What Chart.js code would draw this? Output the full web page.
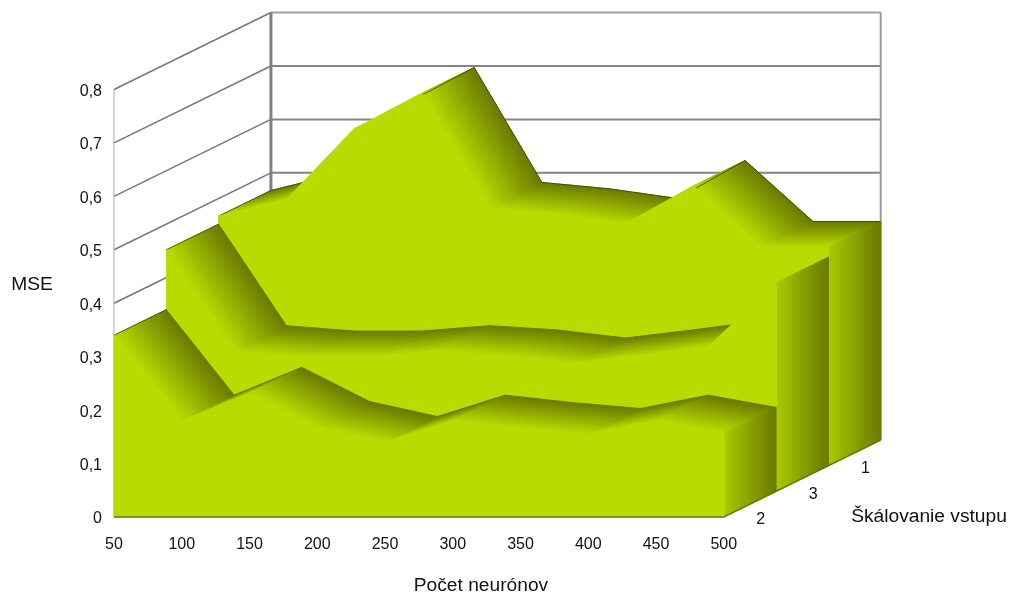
<!DOCTYPE html>
<html>
<head>
<meta charset="utf-8">
<title>MSE</title>
<script src="https://cdn.jsdelivr.net/npm/chart.js@4"></script>
<style>
    html, body { margin: 0; padding: 0; background: #fff; }
    canvas { display: block; }
</style>
</head>
<body>
<canvas id="mseChart" width="1016" height="599"></canvas>
<script>
const neurons = [50, 100, 150, 200, 250, 300, 350, 400, 450, 500];
const mseTicks = [0, 0.1, 0.2, 0.3, 0.4, 0.5, 0.6, 0.7, 0.8];
const scalingLabels = ['2', '3', '1']; // front to back
const mseScaling2 = [0.34, 0.18, 0.232, 0.168, 0.14, 0.18, 0.166, 0.155, 0.18, 0.157];
const mseScaling3 = [0.452, 0.262, 0.252, 0.252, 0.262, 0.254, 0.239, 0.254, 0.271, 0.39];
const mseScaling1 = [0.467, 0.498, 0.63, 0.697, 0.482, 0.47, 0.452, 0.523, 0.409, 0.409];
const allSeries = [mseScaling2, mseScaling3, mseScaling1];

const BRIGHT = '#b8dc00';
const SIDE = '#a8ca00';
const DARK = '#6a7a00';
const OUTLINE = '#3f4700';
const STEP_X = 38.6;   // one series of depth, in x units
const STEP_Y = 0.048;  // one series of depth, in y units
const FONT = '"Liberation Sans", Arial, sans-serif';

function project(x, v, depth) {
    return { x: x + depth * STEP_X, y: v + depth * STEP_Y };
}

// gradient from the front edge (a, b) across to the back edge, at right angles to the edge
function edgeGradient(chart, a, b, back, from) {
    if (!chart.chartArea) return BRIGHT;
    const sx = chart.scales.x, sy = chart.scales.y;
    const ax = sx.getPixelForValue(a.x), ay = sy.getPixelForValue(a.y);
    const bx = sx.getPixelForValue(b.x), by = sy.getPixelForValue(b.y);
    const cx = sx.getPixelForValue(back.x), cy = sy.getPixelForValue(back.y);
    let nx = -(by - ay), ny = bx - ax;
    const len = Math.hypot(nx, ny);
    nx /= len; ny /= len;
    const d = (cx - ax) * nx + (cy - ay) * ny;
    const g = chart.ctx.createLinearGradient(ax, ay, ax + nx * d, ay + ny * d);
    g.addColorStop(0, from);
    g.addColorStop(1, DARK);
    return g;
}

function polygon(points, background) {
    return {
        data: points.concat([points[0]]),
        showLine: true,
        fill: 'shape',
        backgroundColor: background,
        borderColor: background, // hides the hairline between neighbouring faces
        borderWidth: 1,
        pointRadius: 0,
        tension: 0,
        clip: false
    };
}

function line(points, color, width) {
    return {
        data: points,
        showLine: true,
        fill: false,
        borderColor: color,
        borderWidth: width,
        pointRadius: 0,
        tension: 0,
        clip: false
    };
}

const layers = [];
const first = neurons[0];
const last = neurons[neurons.length - 1];

// walls
mseTicks.slice(1).forEach(v => {
    layers.push(line([project(first, v, 0), project(first, v, 3)], '#777777', 1.5));
    layers.push(line([project(first, v, 3), project(last, v, 3)], v === 0.8 ? '#a0a0a0' : '#858585', 2));
});
layers.push(line([project(first, 0, 0), project(first, 0.8, 0)], '#aaaaaa', 1));
layers.push(line([project(first, 0, 3), project(first, 0.8, 3)], '#808080', 3));
layers.push(line([project(last, 0, 3), project(last, 0.8, 3)], '#999999', 2));

// series back to front
for (let depth = allSeries.length - 1; depth >= 0; depth--) {
    const values = allSeries[depth];
    const front = neurons.map((n, i) => project(n, values[i], depth));
    const back = neurons.map((n, i) => project(n, values[i], depth + 1));

    for (let i = 0; i < neurons.length - 1; i++) {
        layers.push(polygon([front[i], front[i + 1], back[i + 1], back[i]],
            ctx => edgeGradient(ctx.chart, front[i], front[i + 1], back[i], BRIGHT)));
    }

    // dark outline where the surface meets the white wall
    layers.push(line([front[0], back[0]], OUTLINE, 0.8));
    if (depth === allSeries.length - 1) layers.push(line(back, OUTLINE, 0.8));

    const n = neurons.length - 1;
    layers.push(polygon([project(last, 0, depth), project(last, 0, depth + 1), back[n], front[n]],
        ctx => edgeGradient(ctx.chart, project(last, 0, depth), project(last, 1, depth), project(last, 0, depth + 1), SIDE)));
    layers.push(polygon(front.concat([project(last, 0, depth), project(first, 0, depth)]), BRIGHT));
}

// bottom edge
layers.push(line([project(first, 0, 0), project(last, 0, 0), project(last, 0, 3)], '#6a7a00', 1.5));

const textPlugin = {
    id: 'chartText',
    afterDraw(chart) {
        const ctx = chart.ctx;
        const sx = chart.scales.x, sy = chart.scales.y;
        ctx.save();
        ctx.fillStyle = '#111';
        ctx.textAlign = 'center';
        ctx.textBaseline = 'middle';
        ctx.font = '16px ' + FONT;
        scalingLabels.forEach((label, depth) => {
            const p = project(last, 0, depth);
            ctx.fillText(label, sx.getPixelForValue(p.x) + 37, sy.getPixelForValue(p.y) + 3);
        });
        ctx.font = '19.2px ' + FONT;
        ctx.fillText('MSE', 32, 285);
        ctx.fillText('Počet neurónov', 481, 586);
        ctx.fillText('Škálovanie vstupu', 929, 517);
        ctx.restore();
    }
};

// Chart.js paints the last dataset first, so the layers go in reversed
new Chart(document.getElementById('mseChart').getContext('2d'), {
    type: 'scatter',
    data: { datasets: layers.slice().reverse() },
    plugins: [textPlugin],
    options: {
        responsive: false,
        animation: false,
        layout: { padding: { top: 3, right: 135, left: 0, bottom: 0 } },
        plugins: { legend: { display: false }, tooltip: { enabled: false } },
        scales: {
            x: {
                type: 'linear',
                min: 50,
                max: 616,
                grid: { display: false, drawTicks: false },
                border: { display: false },
                afterFit: s => { s.height = 82; },
                afterBuildTicks: s => { s.ticks = neurons.map(v => ({ value: v })); },
                ticks: {
                    autoSkip: false,
                    maxRotation: 0,
                    padding: 18,
                    color: '#111',
                    font: { family: FONT, size: 16 },
                    callback: v => String(v)
                }
            },
            y: {
                type: 'linear',
                min: 0,
                max: 0.927,
                grid: { display: false, drawTicks: false },
                border: { display: false },
                afterFit: s => { s.width = 114; },
                afterBuildTicks: s => { s.ticks = mseTicks.map(v => ({ value: v })); },
                ticks: {
                    autoSkip: false,
                    padding: 12,
                    labelOffset: 2,
                    color: '#111',
                    font: { family: FONT, size: 16 },
                    callback: v => String(v).replace('.', ',')
                }
            }
        }
    }
});
</script>
</body>
</html>
